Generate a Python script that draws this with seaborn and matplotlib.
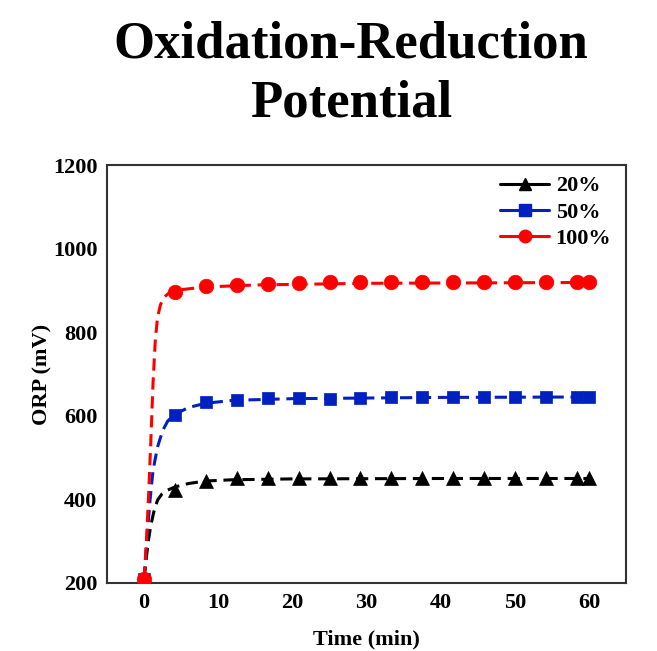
import numpy as np
import pandas as pd
import matplotlib
matplotlib.use('Agg')
import matplotlib.pyplot as plt
from matplotlib.lines import Line2D
from matplotlib.ticker import MultipleLocator
import seaborn as sns

# measured points (time in min, ORP in mV)
time = [0, 4.17, 8.33, 12.5, 16.67, 20.83, 25, 29.17, 33.33, 37.5, 41.67, 45.83, 50, 54.17, 58.33, 60]
orp_20 = [210, 422, 444, 450, 451, 452, 452, 451, 451, 451, 450, 450, 450, 450, 450, 451]
orp_50 = [210, 602, 632, 638, 643, 642, 640, 643, 646, 645, 645, 644, 646, 646, 645, 645]
orp_100 = [210, 896, 910, 913, 915, 917, 919, 920, 920, 920, 920, 920, 921, 920, 920, 920]

# fitted curves (dashed)
fit_t_20 = [0, 0.3, 0.6, 0.9, 1.3, 1.8, 2.4, 3.0, 4.2, 6, 8.3, 12, 20, 40, 60]
fit_y_20 = [210, 262, 305, 338, 370, 398, 413, 421, 430, 438, 444, 447, 449, 450, 450]
fit_t_50 = [0, 0.25, 0.5, 0.8, 1.2, 1.8, 2.5, 3.2, 4.2, 6, 8.3, 12, 20, 40, 60]
fit_y_50 = [210, 275, 335, 400, 470, 525, 565, 588, 604, 620, 630, 637, 641, 644, 645]
fit_t_100 = [0, 0.3, 0.6, 0.9, 1.2, 1.5, 1.8, 2.2, 2.7, 3.3, 4.2, 8, 15, 30, 60]
fit_y_100 = [210, 300, 410, 540, 680, 780, 835, 866, 884, 893, 900, 908, 913, 917, 919]

labels = ['20%', '50%', '100%']
colors = ['black', '#0020c0', '#ff0000']
markers = ['^', 's', 'o']
sizes = [100, 70, 110]

sns.set_style('white')
plt.rcParams['font.family'] = ['Liberation Serif', 'DejaVu Serif']
plt.rcParams['font.weight'] = 'bold'
plt.rcParams['text.color'] = 'black'
plt.rcParams['axes.labelcolor'] = 'black'

fig = plt.figure(figsize=(6.57, 6.51), dpi=100)
ax = fig.add_axes([0.163, 0.1045, 0.79, 0.642])

series = [
    (fit_t_20, fit_y_20, orp_20),
    (fit_t_50, fit_y_50, orp_50),
    (fit_t_100, fit_y_100, orp_100),
]
for i, ((ft, fy, pts), lab, col, mk, sz) in enumerate(zip(series, labels, colors, markers, sizes)):
    sns.lineplot(x=ft, y=fy, ax=ax, color=col, linewidth=2.2, sort=False)
    ax.lines[-1].set_dashes([4, 2.2])
    ax.lines[-1].set_zorder(2 + i)
    sns.scatterplot(x=time, y=pts, ax=ax, color=col, marker=mk, s=sz,
                    edgecolor=col, linewidth=0.5, zorder=5 + i)

ax.set_xlim(-5, 65)
ax.set_ylim(200, 1200)
ax.xaxis.set_major_locator(MultipleLocator(10))
ax.xaxis.set_minor_locator(MultipleLocator(5))
ax.yaxis.set_major_locator(MultipleLocator(200))
ax.yaxis.set_minor_locator(MultipleLocator(100))
ax.tick_params(which='both', direction='in', top=False, right=False, width=1.2, colors='#333333',
               labelcolor='black')
ax.tick_params(which='major', length=6, labelsize=16, pad=7)
ax.tick_params(which='minor', length=3)
for lbl in ax.get_xticklabels() + ax.get_yticklabels():
    lbl.set_fontweight('bold')
for sp in ax.spines.values():
    sp.set_linewidth(1.5)
    sp.set_color('#333333')

ax.set_xlabel('Time (min)', fontsize=16, fontweight='bold', labelpad=12)
ax.set_ylabel('ORP (mV)', fontsize=16, fontweight='bold', labelpad=0)

handles = [Line2D([0], [0], color=c, marker=m, markersize=9, linewidth=2.2)
           for c, m in zip(colors, markers)]
ax.legend(handles, labels, loc='upper right', frameon=False,
          handlelength=2.2, handletextpad=0.3, labelspacing=0.25,
          bbox_to_anchor=(1.01, 1.022), prop={'weight': 'bold', 'size': 16})

fig.text(0.534, 0.968, 'Oxidation-Reduction\nPotential', ha='center', va='top',
         fontsize=38, fontweight='bold', linespacing=1.3)

fig.savefig('out.png', dpi=100)
